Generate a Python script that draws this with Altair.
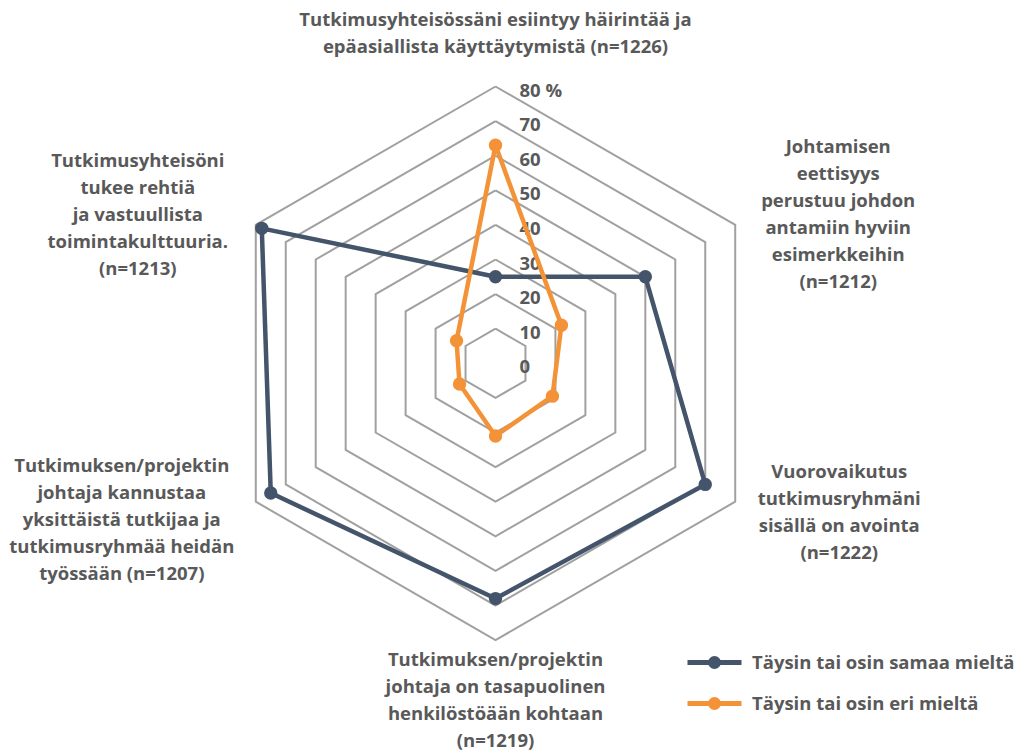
import altair as alt
import pandas as pd

# ---------------- data ----------------
categories = [
    "Tutkimusyhteisössäni esiintyy häirintää ja\nepäasiallista käyttäytymistä (n=1226)",
    "Johtamisen\neettisyys\nperustuu johdon\nantamiin hyviin\nesimerkkeihin\n(n=1212)",
    "Vuorovaikutus\ntutkimusryhmäni\nsisällä on avointa\n(n=1222)",
    "Tutkimuksen/projektin\njohtaja on tasapuolinen\nhenkilöstöään kohtaan\n(n=1219)",
    "Tutkimuksen/projektin\njohtaja kannustaa\nyksittäistä tutkijaa ja\ntutkimusryhmää heidän\ntyössään (n=1207)",
    "Tutkimusyhteisöni\ntukee rehtiä\nja vastuullista\ntoimintakulttuuria.\n(n=1213)",
]
series_names = ["Täysin tai osin samaa mieltä", "Täysin tai osin eri mieltä"]
samaa_mielta = [25, 50, 70, 68, 75, 78]
eri_mielta = [63, 22, 19, 21, 12, 13]
grid_levels = [10, 20, 30, 40, 50, 60, 70, 80]
tick_values = [0, 10, 20, 30, 40, 50, 60, 70, 80]
tick_labels = ["0", "10", "20", "30", "40", "50", "60", "70", "80 %"]

# ---------------- styles / layout ----------------
series_colors = ["#44546A", "#F39237"]
grid_color = "#A0A0A0"
text_color = "#595959"
FONT = "Open Sans"
FS = 18.5
LH = 27
W, H = 1010, 742
PX = 3.46            # pixels per percentage point
CX, CY = 487.5, 355.3
x_dom = [-CX / PX, (W - CX) / PX]
y_dom = [-(H - CY) / PX, CY / PX]
OUTER = 80
# offsets (px) of each label block's centre from the outer ring vertex of its axis
label_offsets = [(0, -53), (103, -10), (104, 11), (0, 60), (-134, 18), (-118, -10)]

N = len(categories)

rows = []
for name, vals in zip(series_names, [samaa_mielta, eri_mielta]):
    for k in range(N + 1):
        rows.append({"series": name, "k": k, "value": vals[k % N]})
series_df = pd.DataFrame(rows)

grid_df = pd.DataFrame(
    [{"level": L, "k": k, "value": L} for L in grid_levels for k in range(N + 1)]
)
tick_df = pd.DataFrame({"value": tick_values, "label": tick_labels, "k": [0] * len(tick_values)})
cat_df = pd.DataFrame({"k": list(range(N)), "label": categories, "value": [OUTER] * N})


def to_xy(ch):
    return ch.transform_calculate(ang=f"datum.k * 2 * PI / {N}").transform_calculate(
        px="datum.value * sin(datum.ang)", py="datum.value * cos(datum.ang)"
    )


X = alt.X("px:Q", scale=alt.Scale(domain=x_dom, nice=False, zero=False), axis=None)
Y = alt.Y("py:Q", scale=alt.Scale(domain=y_dom, nice=False, zero=False), axis=None)

grid = to_xy(alt.Chart(grid_df)).mark_line(stroke=grid_color, strokeWidth=2).encode(
    x=X, y=Y, detail="level:N", order="k:Q"
)

ticks = to_xy(alt.Chart(tick_df)).mark_text(
    align="left", baseline="middle", dx=24, dy=4, font=FONT, fontSize=FS,
    fontWeight="bold", color=text_color
).encode(x=X, y=Y, text="label:N")

lines = []
for name, col in zip(series_names, series_colors):
    lines.append(
        to_xy(alt.Chart(series_df))
        .transform_filter(alt.datum.series == name)
        .mark_line(stroke=col, strokeWidth=4.5, strokeJoin="round")
        .encode(x=X, y=Y, order="k:Q")
    )

color_scale = alt.Scale(domain=series_names, range=series_colors)
legend_path = "M-2.7,0L2.7,0M-0.4,0A0.4,0.4,0,1,0,0.4,0A0.4,0.4,0,1,0,-0.4,0Z"
leg = alt.Legend(
    title=None, orient="none", legendX=694, legendY=642,
    symbolType=legend_path, symbolSize=400, symbolStrokeWidth=5,
    labelFont=FONT, labelFontSize=FS, labelFontWeight="bold", labelColor=text_color,
    labelOffset=25, rowPadding=12, symbolOpacity=1, labelLimit=0,
)

points = to_xy(alt.Chart(series_df)).transform_filter(alt.datum.k < N).mark_point(
    filled=True, size=130, opacity=1
).encode(
    x=X, y=Y,
    fill=alt.Fill("series:N", scale=color_scale, legend=leg),
    stroke=alt.Stroke("series:N", scale=color_scale, legend=leg),
)

labels = []
for k, (ddx, ddy) in enumerate(label_offsets):
    n_lines = categories[k].count("\n") + 1
    labels.append(
        to_xy(alt.Chart(cat_df))
        .transform_filter(alt.datum.k == k)
        .mark_text(
            align="center", baseline="middle", dx=ddx, dy=ddy - (n_lines - 1) * LH / 2,
            font=FONT, fontSize=FS, fontWeight="bold", color=text_color,
            lineBreak="\n", lineHeight=LH
        )
        .encode(x=X, y=Y, text="label:N")
    )

chart = alt.layer(grid, ticks, *lines, points, *labels).properties(
    width=W, height=H, autosize=alt.AutoSizeParams(type="none"), padding=0
).configure_view(stroke=None)

chart.save("out.html", embed_options={"renderer": "svg", "actions": False})
